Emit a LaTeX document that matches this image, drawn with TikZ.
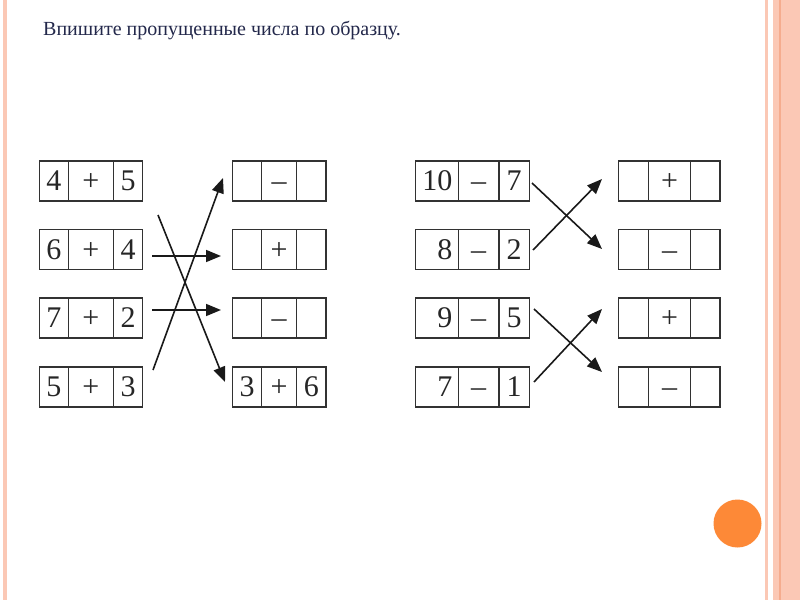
\documentclass[tikz,border=0pt]{standalone}
\usepackage{fontspec}
\setmainfont{Liberation Serif}
\usetikzlibrary{arrows.meta}
\definecolor{stripe}{RGB}{251,200,181}
\definecolor{stripedark}{RGB}{245,172,142}
\definecolor{dot}{RGB}{253,137,55}
\definecolor{titlecol}{RGB}{35,40,75}
\definecolor{boxline}{RGB}{50,50,50}
\tikzset{
  cell/.style={draw=boxline, line width=1.3pt, minimum height=40pt, inner sep=0pt, outer sep=0pt, anchor=north west},
  num/.style={inner sep=0pt, outer sep=0pt, anchor=base, yshift=-9.5pt, font=\fontsize{30}{30}\selectfont, text=black!85},
  firstnum/.style={},
  link/.style={line width=1.6pt, draw=black!90, -{Triangle[length=15pt,width=12pt]}}
}
\newcommand{\cellbox}[9]{%
  \node[cell, minimum width=#4pt] (#1a) at (#2,#3) {};
  \node[cell, minimum width=#5pt] (#1b) at (#1a.north east) {};
  \node[cell, minimum width=#6pt] (#1c) at (#1b.north east) {};
  \node[num, firstnum] (#1x) at (#1a.center) {#7};
  \node[num] (#1y) at (#1b.center) {#8};
  \node[num] (#1z) at (#1c.center) {#9};
}
\begin{document}
\begin{tikzpicture}[x=1pt,y=-1pt]
\useasboundingbox (0,0) rectangle (800,600);
\fill[white] (0,0) rectangle (800,600);
% side stripes
\fill[stripe] (3.3,0) rectangle (6.7,600);
\fill[stripe] (764.5,0) rectangle (767.5,600);
\fill[stripe] (773,0) rectangle (800,600);
\fill[stripedark] (779,0) rectangle (781,600);
% orange dot
\fill[dot] (737.5,523.5) circle[radius=24];
% title
\node[anchor=base west, inner sep=0pt, text=titlecol, font=\fontsize{20}{20}\selectfont] (title) at (43,35.7) {Впишите пропущенные числа по образцу.};
% left group
\cellbox{la}{39.3}{161}{29}{45}{29.4}{4}{+}{5}
\cellbox{lb}{39.3}{229.5}{29}{45}{29.4}{6}{+}{4}
\cellbox{lc}{39.3}{298}{29}{45}{29.4}{7}{+}{2}
\cellbox{ld}{39.3}{367}{29}{45}{29.4}{5}{+}{3}
\cellbox{ma}{232.7}{161}{29}{35}{29.3}{}{–}{}
\cellbox{mb}{232.7}{229.5}{29}{35}{29.3}{}{+}{}
\cellbox{mc}{232.7}{298}{29}{35}{29.3}{}{–}{}
\cellbox{md}{232.7}{367}{29}{35}{29.3}{3}{+}{6}
% right group
\tikzset{firstnum/.style={anchor=base east, xshift=15.3pt}}
\cellbox{ra}{415.7}{161}{42.6}{40.7}{30.3}{10}{–}{7}
\cellbox{rb}{415.7}{229.5}{42.6}{40.7}{30.3}{8}{–}{2}
\cellbox{rc}{415.7}{298}{42.6}{40.7}{30.3}{9}{–}{5}
\cellbox{rd}{415.7}{367}{42.6}{40.7}{30.3}{7}{–}{1}
\tikzset{firstnum/.style={}}
\cellbox{sa}{618.3}{161}{30}{42.4}{29.3}{}{+}{}
\cellbox{sb}{618.3}{229.5}{30}{42.4}{29.3}{}{–}{}
\cellbox{sc}{618.3}{298}{30}{42.4}{29.3}{}{+}{}
\cellbox{sd}{618.3}{367}{30}{42.4}{29.3}{}{–}{}
% arrow end points
\coordinate (l1s) at (153,370); \coordinate (l1e) at (223,178);
\coordinate (l2s) at (152,256); \coordinate (l2e) at (221,256);
\coordinate (l3s) at (152,310); \coordinate (l3e) at (221,310);
\coordinate (l4s) at (158,215); \coordinate (l4e) at (225,382);
\coordinate (r1s) at (532,183); \coordinate (r1e) at (602,249);
\coordinate (r2s) at (533,250); \coordinate (r2e) at (602,179);
\coordinate (r3s) at (534,309); \coordinate (r3e) at (602,372);
\coordinate (r4s) at (534,382); \coordinate (r4e) at (602,309);
\draw[link] (l1s) -- (l1e);
\draw[link] (l2s) -- (l2e);
\draw[link] (l3s) -- (l3e);
\draw[link] (l4s) -- (l4e);
\draw[link] (r1s) -- (r1e);
\draw[link] (r2s) -- (r2e);
\draw[link] (r3s) -- (r3e);
\draw[link] (r4s) -- (r4e);
\end{tikzpicture}
\end{document}
